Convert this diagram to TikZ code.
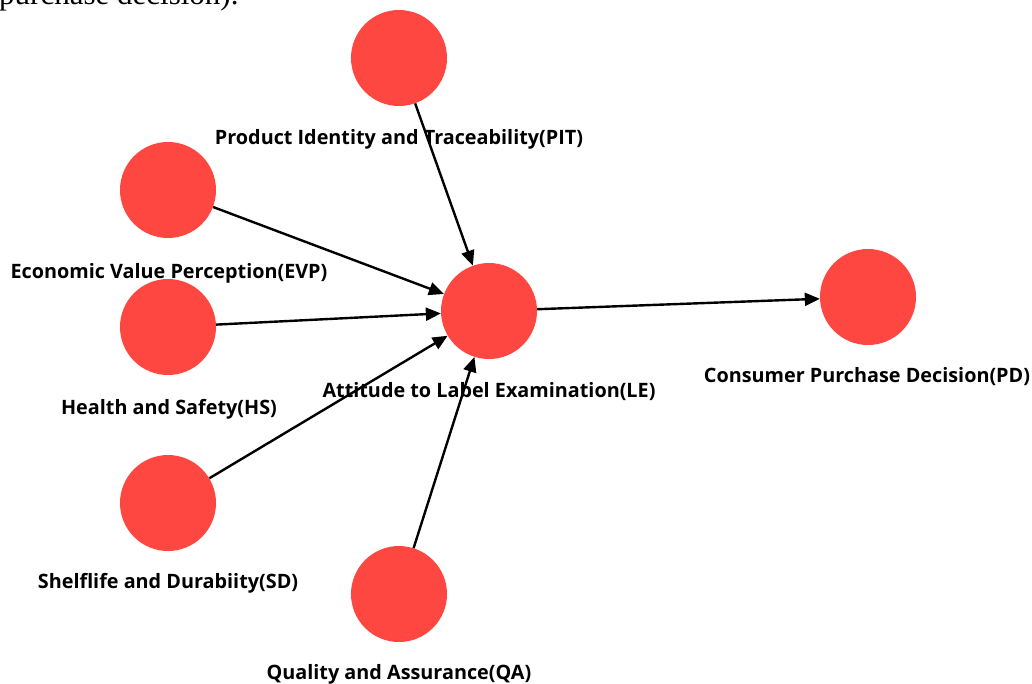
\documentclass[tikz,border=0pt]{standalone}
\usepackage{fontspec}
\setmainfont{Open Sans}
\newfontfamily\serifface{Liberation Serif}
\usetikzlibrary{arrows.meta}
\definecolor{nodered}{HTML}{FF4741}
\tikzset{
  construct/.style={circle, fill=nodered, draw=none, minimum size=96pt, inner sep=0pt},
  clabel/.style={font=\fontsize{19.8}{22}\selectfont\bfseries, inner sep=0pt, text=black},
  link/.style={line width=2.4pt, -{Triangle[length=15pt,width=13pt]}, shorten >=0pt}
}
\begin{document}
\begin{tikzpicture}[x=1pt,y=-1pt]
\useasboundingbox (0,0) rectangle (1032,683);
\fill[white] (0,0) rectangle (1032,683);
\clip (0,0) rectangle (1032,683);
\node[anchor=base west, inner sep=0pt, font=\serifface\fontsize{31}{33}\selectfont] (cap) at (-1,4) {purchase decision).};
\node[construct] (PIT) at (399,58) {};
\node[construct] (EVP) at (168,190) {};
\node[construct] (HS) at (168,327) {};
\node[construct] (SD) at (168,503) {};
\node[construct] (QA) at (399,594) {};
\node[construct] (LE) at (489,311) {};
\node[construct] (PD) at (868,297) {};
\node[clabel] (PITl) at (399,139) {Product Identity and Traceability(PIT)};
\node[clabel] (EVPl) at (169,273) {Economic Value Perception(EVP)};
\node[clabel] (HSl) at (169,409) {Health and Safety(HS)};
\node[clabel] (SDl) at (168,583) {Shelflife and Durabiity(SD)};
\node[clabel] (QAl) at (399,674) {Quality and Assurance(QA)};
\node[clabel] (LEl) at (489,392) {Attitude to Label Examination(LE)};
\node[clabel] (PDl) at (867,377) {Consumer Purchase Decision(PD)};
\draw[link] (PIT) -- (LE);
\draw[link] (EVP) -- (LE);
\draw[link] (HS) -- (LE);
\draw[link] (SD) -- (LE);
\draw[link] (QA) -- (LE);
\draw[link] (LE) -- (PD);
\end{tikzpicture}
\end{document}
